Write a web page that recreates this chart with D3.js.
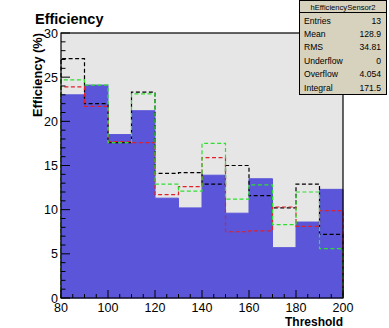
<!DOCTYPE html>
<html><head><meta charset="utf-8">
<script src="https://cdn.jsdelivr.net/npm/d3@7"></script>
<style>body{margin:0;background:#fff;}svg{display:block;font-family:"Liberation Sans",Arial,sans-serif;}</style>
</head><body>
<svg id="c" width="389" height="328"></svg>
<script>
const binEdges = [80,90,100,110,120,130,140,150,160,170,180,190,200];
const blueFill = [23.0,24.1,18.5,21.2,11.3,10.2,13.9,9.6,13.5,5.7,8.6,12.3];
const blackDash = [27.1,22.0,17.6,23.3,14.1,14.2,12.9,15.0,11.6,10.2,12.9,7.2];
const redDash = [23.9,21.7,17.7,17.6,11.7,12.6,15.9,7.5,7.6,10.3,8.1,9.9];
const greenDash = [24.7,24.1,17.6,23.1,12.9,12.1,17.5,11.2,12.8,8.3,12.0,5.6];
const xTicks = [80,100,120,140,160,180,200];
const yTicks = [0,5,10,15,20,25,30];
const statLabels = ["Entries","Mean","RMS","Underflow","Overflow","Integral"];
const statValues = ["13","128.9","34.81","0","4.054","171.5"];

const svg = d3.select("#c");
const L=61,R=343,T=33,B=298;
const x = d3.scaleLinear().domain([80,200]).range([L,R]);
const y = d3.scaleLinear().domain([0,30]).range([B,T]);

svg.append("rect").attr("x",L).attr("y",T).attr("width",R-L).attr("height",B-T).attr("fill","#e6e6e6");

function stepPath(vals){
  const p = d3.path();
  p.moveTo(x(binEdges[0]),y(0));
  vals.forEach((v,i)=>{p.lineTo(x(binEdges[i]),y(v));p.lineTo(x(binEdges[i+1]),y(v));});
  p.lineTo(x(binEdges[binEdges.length-1]),y(0));
  return p.toString();
}
svg.append("path").attr("d",stepPath(blueFill)+"Z").attr("fill","#5a55d9").attr("stroke","#5a55d9").attr("stroke-width",1);
[[blackDash,"#000"],[redDash,"#e0202a"],[greenDash,"#2ee02e"]].forEach(([d,c])=>{
  svg.append("path").attr("d",stepPath(d)).attr("fill","none").attr("stroke",c).attr("stroke-width",1.2).attr("stroke-dasharray","4,2.5");
});

// frame
svg.append("rect").attr("x",L).attr("y",T).attr("width",R-L).attr("height",B-T).attr("fill","none").attr("stroke","#000").attr("stroke-width",1.2);

// y axis ticks
const yMinor = d3.range(0,31,1);
svg.append("g").selectAll("line").data(yMinor).join("line")
  .attr("x1",L).attr("x2",d=>L+(d%5===0?9:4.5)).attr("y1",d=>y(d)).attr("y2",d=>y(d)).attr("stroke","#000");
svg.append("g").selectAll("text").data(yTicks).join("text")
  .attr("x",L-3).attr("y",d=>y(d)+4.5).attr("text-anchor","end").attr("font-size",12.5).text(d=>d);
// x axis ticks
const xMinor = d3.range(80,201,5);
svg.append("g").selectAll("line").data(xMinor).join("line")
  .attr("x1",d=>x(d)).attr("x2",d=>x(d)).attr("y1",B).attr("y2",d=>B-(d%20===0?8:4)).attr("stroke","#000");
svg.append("g").selectAll("text").data(xTicks).join("text")
  .attr("x",d=>x(d)).attr("y",312).attr("text-anchor","middle").attr("font-size",12.5).text(d=>d);

svg.append("text").attr("x",R).attr("y",326).attr("text-anchor","end").attr("font-size",12).attr("font-weight","bold").text("Threshold");
svg.append("text").attr("transform",`translate(42,${T}) rotate(-90)`).attr("text-anchor","end").attr("font-size",12.8).attr("font-weight","bold").text("Efficiency (%)");
svg.append("text").attr("x",35).attr("y",24).attr("font-size",14.5).attr("font-weight","bold").text("Efficiency");

// stats box
const sb = svg.append("g");
sb.append("rect").attr("x",299.5).attr("y",0.5).attr("width",87).attr("height",94).attr("fill","#d6d2be").attr("stroke","#000");
sb.append("line").attr("x1",299.5).attr("x2",386.5).attr("y1",12.5).attr("y2",12.5).attr("stroke","#000");
sb.append("text").attr("x",343).attr("y",9.5).attr("text-anchor","middle").attr("font-size",7.6).text("hEfficiencySensor2");
statLabels.forEach((s,i)=>{
  sb.append("text").attr("x",304).attr("y",23.5+i*13.4).attr("font-size",8.6).text(s);
  sb.append("text").attr("x",381).attr("y",23.5+i*13.4).attr("text-anchor","end").attr("font-size",8.6).text(statValues[i]);
});
</script>
</body></html>
